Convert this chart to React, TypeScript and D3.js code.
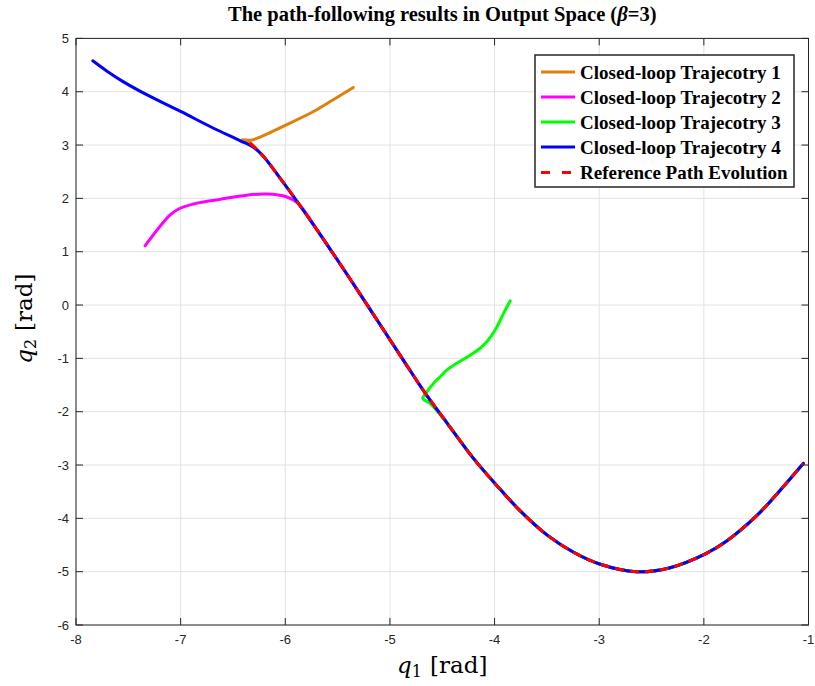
import React from "react";
import * as d3 from "d3";

// Reference path in output space (q1, q2)
const refPath: [number, number][] = [
  [-6.34, 3.04], [-6.21, 2.79], [-6.05, 2.38], [-5.89, 1.95], [-5.70, 1.42],
  [-5.50, 0.84], [-5.29, 0.22], [-5.09, -0.38], [-4.88, -1.01], [-4.66, -1.66],
  [-4.44, -2.25], [-4.20, -2.88], [-3.99, -3.36], [-3.755, -3.86], [-3.50, -4.31],
  [-3.25, -4.63], [-2.99, -4.86], [-2.645, -5.0], [-2.33, -4.93], [-1.99, -4.67],
  [-1.785, -4.43], [-1.50, -3.96], [-1.31, -3.56], [-1.05, -2.97],
];

// Transient parts of the closed-loop trajectories before they join the path
const traj1Head: [number, number][] = [
  [-5.35, 4.08], [-5.55, 3.84], [-5.73, 3.63], [-5.99, 3.38], [-6.24, 3.15],
  [-6.33, 3.09], [-6.41, 3.10], [-6.33, 3.03], [-6.21, 2.79],
];
const traj2Head: [number, number][] = [
  [-7.34, 1.11], [-7.10, 1.69], [-7.01, 1.81], [-6.82, 1.92], [-6.63, 1.98],
  [-6.37, 2.06], [-6.18, 2.08], [-5.99, 2.03], [-5.88, 1.91], [-5.81, 1.74],
];
const traj3Head: [number, number][] = [
  [-3.85, 0.08], [-3.915, -0.16], [-3.994, -0.47], [-4.074, -0.69], [-4.138, -0.81],
  [-4.233, -0.94], [-4.36, -1.09], [-4.456, -1.22], [-4.52, -1.345], [-4.584, -1.47],
  [-4.648, -1.63], [-4.686, -1.75], [-4.62, -1.84],
];
const traj4Head: [number, number][] = [
  [-7.84, 4.58], [-7.70, 4.38], [-7.55, 4.19], [-7.32, 3.94], [-7.0, 3.63],
  [-6.69, 3.32], [-6.43, 3.08], [-6.305, 2.96], [-6.21, 2.79],
];

const xTicks = [-8, -7, -6, -5, -4, -3, -2, -1];
const yTicks = [5, 4, 3, 2, 1, 0, -1, -2, -3, -4, -5, -6];

const seriesNames = [
  "Closed-loop Trajecotry 1",
  "Closed-loop Trajecotry 2",
  "Closed-loop Trajecotry 3",
  "Closed-loop Trajecotry 4",
  "Reference Path Evolution",
];
const seriesColors = ["#E0800A", "#FF00FF", "#00FF00", "#0000FF", "#FF0000"];

// after joining, each trajectory tracks the reference path
const followFrom = (head: [number, number][]) => {
  const last = head[head.length - 1];
  return head.concat(refPath.filter((p) => p[0] > last[0] + 0.02));
};

export default function App() {
  const W = 815, H = 686;
  const left = 76, right = 808.5, top = 38.4, bottom = 625;
  const x = d3.scaleLinear().domain([-8, -1]).range([left, right]);
  const y = d3.scaleLinear().domain([-6, 5]).range([bottom, top]);
  const line = d3
    .line<[number, number]>()
    .x((d) => x(d[0]))
    .y((d) => y(d[1]))
    .curve(d3.curveCatmullRom.alpha(0.5));

  const trajs = [traj1Head, traj2Head, traj3Head, traj4Head].map(followFrom);
  const axisColor = "#262626";
  const tickLen = 7;
  const tickFont = "'Liberation Sans', Arial, sans-serif";
  const serif = "'Liberation Serif', 'Times New Roman', serif";
  const labelSerif = "'DejaVu Serif', serif";

  const legX = 535, legY = 55, legW = 259, legH = 132;
  const rowY = [72, 97, 122, 147, 172.5];

  return (
    <svg
      width={W}
      height={H}
      style={{ position: "absolute", left: 0, top: 0, background: "#fff" }}
    >
      <rect x={0} y={0} width={W} height={H} fill="#fff" />
      <defs>
        <clipPath id="plotClip">
          <rect x={left} y={top} width={right - left} height={bottom - top} />
        </clipPath>
      </defs>
      {/* grid */}
      <g stroke="#e3e3e3" strokeWidth={1}>
        {xTicks.map((t) => (
          <line key={"gx" + t} x1={x(t)} x2={x(t)} y1={top} y2={bottom} />
        ))}
        {yTicks.map((t) => (
          <line key={"gy" + t} x1={left} x2={right} y1={y(t)} y2={y(t)} />
        ))}
      </g>
      {/* data */}
      <g clipPath="url(#plotClip)" fill="none" strokeLinejoin="round" strokeLinecap="round">
        {trajs.map((t, i) => (
          <path key={"t" + i} d={line(t) || ""} stroke={seriesColors[i]} strokeWidth={3} />
        ))}
        <path
          d={line(refPath) || ""}
          stroke={seriesColors[4]}
          strokeWidth={3}
          strokeDasharray="9,6"
          strokeLinecap="butt"
        />
      </g>
      {/* axes box and ticks */}
      <rect
        x={left}
        y={top}
        width={right - left}
        height={bottom - top}
        fill="none"
        stroke={axisColor}
        strokeWidth={1}
      />
      <g stroke={axisColor} strokeWidth={1}>
        {xTicks.map((t) => (
          <g key={"tx" + t}>
            <line x1={x(t)} x2={x(t)} y1={bottom} y2={bottom - tickLen} />
            <line x1={x(t)} x2={x(t)} y1={top} y2={top + tickLen} />
          </g>
        ))}
        {yTicks.map((t) => (
          <g key={"ty" + t}>
            <line x1={left} x2={left + tickLen} y1={y(t)} y2={y(t)} />
            <line x1={right} x2={right - tickLen} y1={y(t)} y2={y(t)} />
          </g>
        ))}
      </g>
      <g fill={axisColor} fontFamily={tickFont} fontSize={13}>
        {xTicks.map((t) => (
          <text key={"lx" + t} x={x(t)} y={bottom + 19} textAnchor="middle">
            {t}
          </text>
        ))}
        {yTicks.map((t) => (
          <text key={"ly" + t} x={left - 7} y={y(t) + 4.5} textAnchor="end">
            {t}
          </text>
        ))}
      </g>
      {/* title */}
      <text
        x={(left + right) / 2}
        y={21}
        textAnchor="middle"
        fontFamily={serif}
        fontWeight="bold"
        fontSize={20.5}
        fill="#000"
      >
        The path-following results in Output Space (<tspan fontStyle="italic">β</tspan>=3)
      </text>
      {/* axis labels */}
      <text
        x={(left + right) / 2}
        y={673}
        textAnchor="middle"
        fontFamily={labelSerif}
        fontSize={23}
        fill="#000"
      >
        <tspan fontStyle="italic">q</tspan>
        <tspan fontSize={16} dy={4}>1</tspan>
        <tspan dy={-4} dx={8}>[rad]</tspan>
      </text>
      <text
        transform={`translate(32,${(top + bottom) / 2 - 13}) rotate(-90)`}
        textAnchor="middle"
        fontFamily={labelSerif}
        fontSize={23}
        fill="#000"
      >
        <tspan fontStyle="italic">q</tspan>
        <tspan fontSize={16} dy={4}>2</tspan>
        <tspan dy={-4} dx={8}>[rad]</tspan>
      </text>
      {/* legend */}
      <rect
        x={legX}
        y={legY}
        width={legW}
        height={legH}
        fill="#fff"
        stroke={axisColor}
        strokeWidth={1.5}
      />
      {seriesNames.map((name, i) => (
        <g key={"leg" + i}>
          <line
            x1={541}
            x2={575}
            y1={rowY[i]}
            y2={rowY[i]}
            stroke={seriesColors[i]}
            strokeWidth={3}
            strokeDasharray={i === 4 ? "9,12" : undefined}
          />
          <text
            x={580}
            y={rowY[i] + 6.5}
            fontFamily={serif}
            fontWeight="bold"
            fontSize={19}
            fill="#000"
          >
            {name}
          </text>
        </g>
      ))}
    </svg>
  );
}
